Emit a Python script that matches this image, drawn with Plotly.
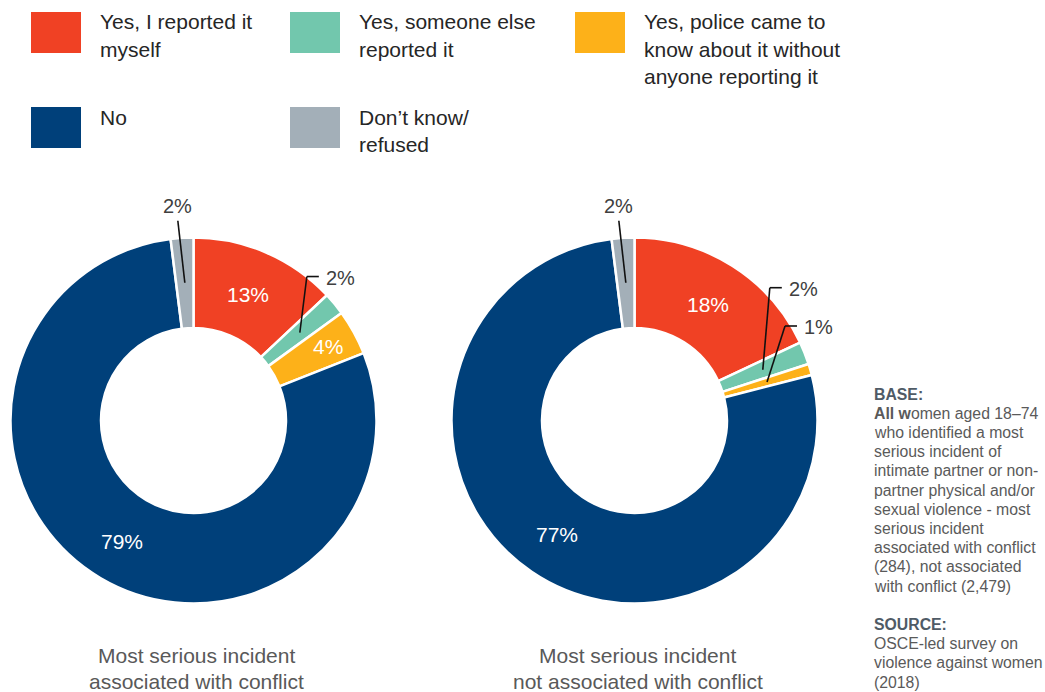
import math
import plotly.graph_objects as go

# ---- data -------------------------------------------------------------
categories = [
    "Yes, I reported it myself",
    "Yes, someone else reported it",
    "Yes, police came to know about it without anyone reporting it",
    "No",
    "Don’t know/ refused",
]
legend_lines = [
    ["Yes, I reported it", "myself"],
    ["Yes, someone else", "reported it"],
    ["Yes, police came to", "know about it without", "anyone reporting it"],
    ["No"],
    ["Don’t know/", "refused"],
]
conflict_pct = [13, 2, 4, 79, 2]
non_conflict_pct = [18, 2, 1, 77, 2]
chart_titles = [
    ["Most serious incident", "associated with conflict"],
    ["Most serious incident", "not associated with conflict"],
]
base_note = [
    "<b>All w</b>omen aged 18–74",
    "who identified a most",
    "serious incident of",
    "intimate partner or non-",
    "partner physical and/or",
    "sexual violence - most",
    "serious incident",
    "associated with conflict",
    "(284), not associated",
    "with conflict (2,479)",
]
source_note = ["OSCE-led survey on", "violence against women", "(2018)"]

# ---- styling ----------------------------------------------------------
W, H = 1045, 692
FONT = "Liberation Sans, Arial, sans-serif"
colors = ["#F04124", "#72C7AD", "#FDB119", "#00407A", "#A3AFB8"]
R_OUT, R_IN = 183, 92.5
donuts = [
    dict(values=conflict_pct, cx=193.5, cy=420.5,
         inside={0: 137, 2: 153, 3: 140},
         callouts=[(1, 7, -56, 12), (4, -7, -62, 0)]),
    dict(values=non_conflict_pct, cx=634.5, cy=420.5,
         inside={0: 137, 3: 138},
         callouts=[(1, 7, -82, 12), (2, 18, -56, 12), (4, -7, -62, 0)]),
]


def X(px):
    return px / W


def Y(py):
    return 1 - py / H


def polar(cx, cy, frac, r):
    # frac of the full circle, measured clockwise from 12 o'clock
    a = 2 * math.pi * frac
    return cx + r * math.sin(a), cy - r * math.cos(a)


fig = go.Figure()
annotations = []
shapes = []

for d in donuts:
    vals = d["values"]
    total = sum(vals)
    cx, cy = d["cx"], d["cy"]
    fig.add_trace(go.Pie(
        values=vals,
        labels=categories,
        sort=False,
        direction="clockwise",
        rotation=0,
        hole=R_IN / R_OUT,
        marker=dict(colors=colors, line=dict(color="white", width=2.5)),
        textinfo="none",
        hoverinfo="label+percent",
        showlegend=False,
        domain=dict(x=[X(cx - R_OUT), X(cx + R_OUT)],
                    y=[Y(cy + R_OUT), Y(cy - R_OUT)]),
    ))

    # mid-angle of every slice
    mids = []
    acc = 0
    for v in vals:
        mids.append((acc + v / 2) / total)
        acc += v

    # labels inside the ring
    for i, r in d["inside"].items():
        x, y = polar(cx, cy, mids[i], r)
        annotations.append(dict(
            x=X(x), y=Y(y), xref="paper", yref="paper", showarrow=False,
            text=f"{vals[i]}%", xanchor="center", yanchor="middle",
            font=dict(family=FONT, size=21, color="white")))

    # leader lines for the thin slices
    for i, ex, ey, tail in d["callouts"]:
        x0, y0 = polar(cx, cy, mids[i], 138)
        x1, y1 = x0 + ex, y0 + ey
        line = dict(color="#111111", width=1.6)
        shapes.append(dict(type="line", xref="paper", yref="paper",
                           x0=X(x0), y0=Y(y0), x1=X(x1), y1=Y(y1), line=line))
        if tail:
            shapes.append(dict(type="line", xref="paper", yref="paper",
                               x0=X(x1), y0=Y(y1), x1=X(x1 + tail), y1=Y(y1),
                               line=line))
            annotations.append(dict(
                x=X(x1 + tail + 5), y=Y(y1 + 1), xref="paper", yref="paper",
                showarrow=False, text=f"{vals[i]}%", xanchor="left",
                yanchor="middle",
                font=dict(family=FONT, size=20, color="#404040")))
        else:
            annotations.append(dict(
                x=X(x1), y=Y(y1 - 15), xref="paper", yref="paper",
                showarrow=False, text=f"{vals[i]}%", xanchor="center",
                yanchor="middle",
                font=dict(family=FONT, size=20, color="#404040")))

# chart captions
for d, lines in zip(donuts, chart_titles):
    for k, t in enumerate(lines):
        annotations.append(dict(
            x=X(d["cx"] + 3), y=Y(655 + 26 * k), xref="paper", yref="paper",
            showarrow=False, text=t, xanchor="center", yanchor="middle",
            font=dict(family=FONT, size=21, color="#595959")))

# legend: swatches plus wrapped text
legend_pos = [(31, 12), (290, 12), (575, 12), (31, 107), (290, 107)]
for (lx, ly), col, lines in zip(legend_pos, colors, legend_lines):
    shapes.append(dict(type="rect", xref="paper", yref="paper",
                       x0=X(lx), x1=X(lx + 50), y0=Y(ly), y1=Y(ly + 41),
                       fillcolor=col, line=dict(width=0)))
    for k, t in enumerate(lines):
        annotations.append(dict(
            x=X(lx + 67), y=Y(ly + 10 + 27.3 * k), xref="paper", yref="paper",
            showarrow=False, text=t, xanchor="left", yanchor="middle",
            font=dict(family=FONT, size=21, color="#262626")))

# base / source note
NOTE_X, STEP = 872, 19.2
note_rows = [("<b>BASE:</b>", "#4F5B66")] + [(t, "#5A5A5A") for t in base_note] \
    + [("", None), ("<b>SOURCE:</b>", "#4F5B66")] + [(t, "#5A5A5A") for t in source_note]
for k, (t, c) in enumerate(note_rows):
    if not t:
        continue
    annotations.append(dict(
        x=X(NOTE_X), y=Y(394 + STEP * k), xref="paper", yref="paper",
        showarrow=False, text=t, xanchor="left", yanchor="middle",
        font=dict(family=FONT, size=15.8, color=c)))

fig.update_layout(
    width=W, height=H,
    margin=dict(l=0, r=0, t=0, b=0),
    paper_bgcolor="white", plot_bgcolor="white",
    annotations=annotations, shapes=shapes,
    showlegend=False,
)
fig.write_html("out.html")
